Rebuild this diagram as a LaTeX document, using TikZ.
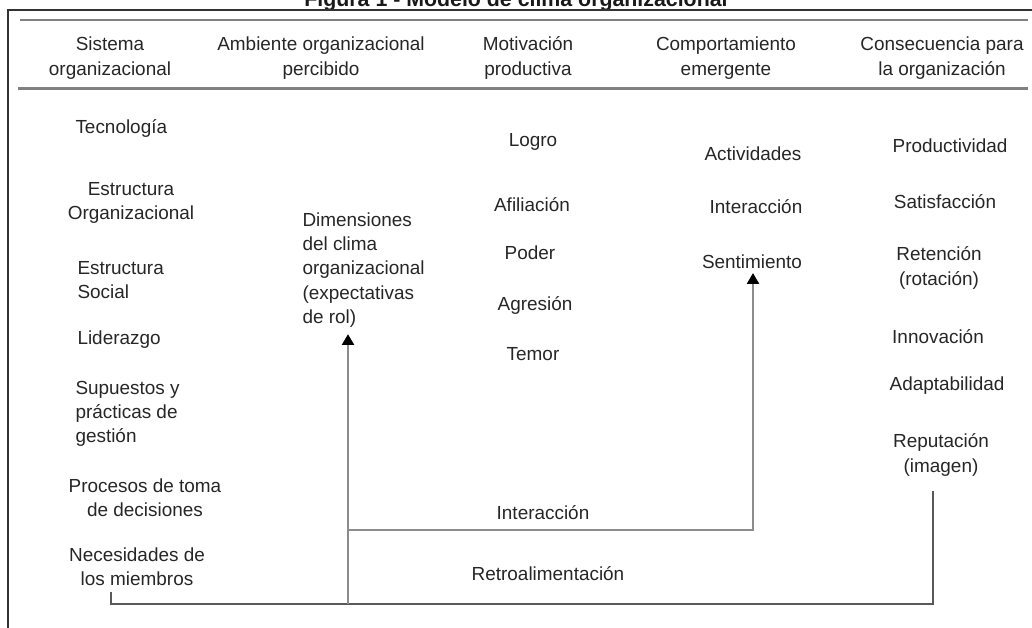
\documentclass[tikz,border=0pt]{standalone}
\usepackage{fontspec}
\setmainfont{Liberation Sans}
\usetikzlibrary{arrows.meta}

\tikzset{every picture/.style={line width=0.75pt}}
\tikzset{
	txt/.style={inner sep=0.75pt, text=black!85, font=\fontsize{14.2pt}{18.2pt}\selectfont},
	rule/.style={draw=black!50, line width=2.2pt},
	frame/.style={draw=black!80, line width=1.1pt},
	flow/.style={draw=black!45, line width=1.4pt, -{Triangle[width=9pt,length=8pt,black]}},
	fbline/.style={draw=black!65, line width=1.3pt},
}

\begin{document}
\begin{tikzpicture}[x=0.75pt,y=0.75pt,yscale=-1]
	\useasboundingbox (0,0) rectangle (1032,628);
	
	%Title (cut at the top)
	\node [anchor=base, inner sep=0pt, text=black!90, font=\bfseries\fontsize{16pt}{18pt}\selectfont] (title) at (516,6.5) {Figura 1 - Modelo de clima organizacional};
	
	%Shape: Frame
	\draw [frame] (8,640) -- (8,10) -- (1040,10) ;
	%Straight Lines: header rules
	\draw [rule] (20,20) -- (1028,20) ;
	\draw [rule] (18,88.5) -- (1028,88.5) ;
	
	% Text Node: headers
	\node [txt, align=center] (hsis) at (110,58) {Sistema\\organizacional};
	\node [txt, align=center] (hamb) at (321,58) {Ambiente organizacional\\percibido};
	\node [txt, align=center] (hmot) at (528,58) {Motivación\\productiva};
	\node [txt, align=center] (hcom) at (726,58) {Comportamiento\\emergente};
	\node [txt, align=center] (hcon) at (942,58) {Consecuencia para\\la organización};
	
	% Text Node: sistema organizacional
	\node [txt, anchor=west] (tec) at (74,128) {Tecnología};
	\node [txt, align=center] (estorg) at (131,203) {Estructura\\Organizacional};
	\node [txt, anchor=west, align=left] (estsoc) at (76,280) {Estructura\\Social};
	\node [txt, anchor=west] (lid) at (76,340) {Liderazgo};
	\node [txt, anchor=west, align=left] (sup) at (74,414) {Supuestos y\\prácticas de\\gestión};
	\node [txt, align=center] (proc) at (145,498) {Procesos de toma\\de decisiones};
	\node [txt, align=center] (nec) at (137,567) {Necesidades de\\los miembros};
	
	% Text Node: ambiente percibido
	\node [txt, anchor=west, align=left] (dim) at (301,270) {Dimensiones\\del clima\\organizacional\\(expectativas\\de rol)};
	
	% Text Node: motivacion productiva
	\node [txt] (logro) at (533,142) {Logro};
	\node [txt] (afil) at (532,205) {Afiliación};
	\node [txt] (poder) at (530,253) {Poder};
	\node [txt] (agres) at (535,305) {Agresión};
	\node [txt] (temor) at (533,354) {Temor};
	
	% Text Node: comportamiento emergente
	\node [txt] (activ) at (753,154) {Actividades};
	\node [txt] (inter) at (756,207) {Interacción};
	\node [txt] (sent) at (752,262) {Sentimiento};
	
	% Text Node: consecuencias
	\node [txt] (prod) at (950,146) {Productividad};
	\node [txt] (satis) at (945,202) {Satisfacción};
	\node [txt, align=center] (reten) at (939,268) {Retención\\(rotación)};
	\node [txt] (innov) at (938,337) {Innovación};
	\node [txt] (adapt) at (947,386) {Adaptabilidad};
	\node [txt, align=center] (reput) at (941,455) {Reputación\\(imagen)};
	
	% Text Node: line labels
	\node [txt] (lblinter) at (543,513) {Interacción};
	\node [txt] (lblretro) at (548,574) {Retroalimentación};
	
	%Coordinates for the loops
	\coordinate (cnl) at (111,604);
	\coordinate (cnr) at (933,604);
	\coordinate (cdim) at (348,604);
	\coordinate (cil) at (348,530);
	\coordinate (cir) at (753,530);
	
	%Straight Lines: feedback loop
	\draw [fbline] ([yshift=3pt]nec.south -| cnl) -- (cnl) -- (cnr) -- ([yshift=10pt]reput.south -| cnr) ;
	%Straight Lines: arrow to dimensiones
	\draw [flow] (cdim) -- ([yshift=4pt]dim.south -| cdim) ;
	%Straight Lines: interaccion arrow
	\draw [flow] (cil) -- (cir) -- ([yshift=2pt]sent.south -| cir) ;
	
\end{tikzpicture}
\end{document}
